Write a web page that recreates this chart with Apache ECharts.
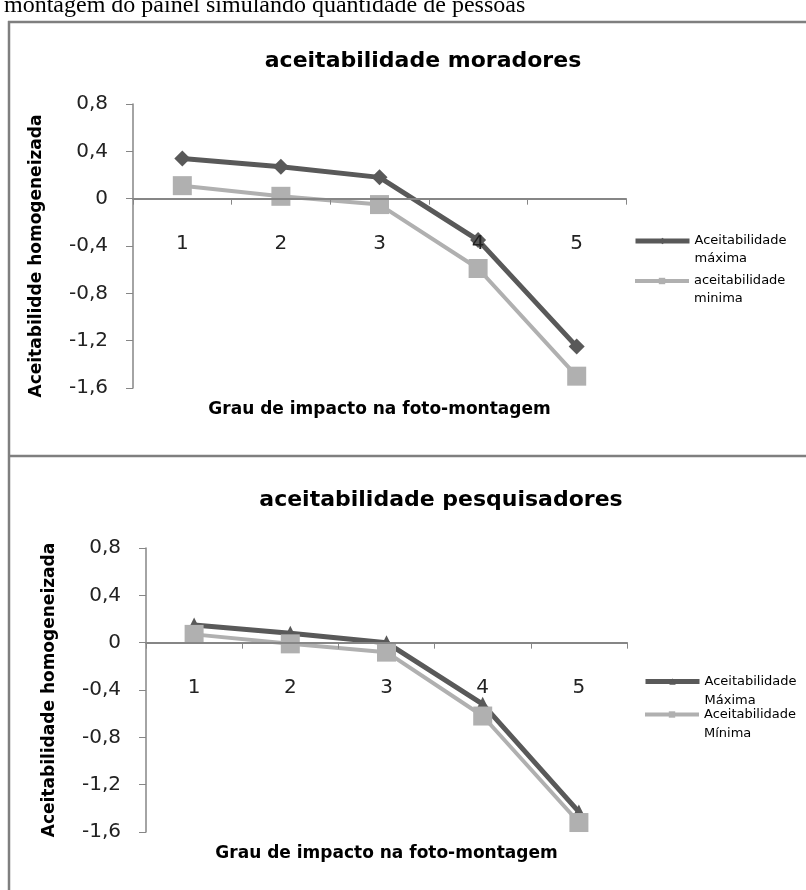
<!DOCTYPE html>
<html>
<head>
<meta charset="utf-8">
<script src="https://cdn.jsdelivr.net/npm/echarts@6/dist/echarts.min.js"></script>
<style>
  html, body { margin: 0; padding: 0; background: #ffffff; }
  #chart { width: 806px; height: 890px; }
</style>
</head>
<body>
<div id="chart"></div>
<script>
// Impact levels of the photo-montage (x categories)
const categories = ['1', '2', '3', '4', '5'];

// Residents: homogenised acceptability
const moradoresMax = [0.34, 0.27, 0.18, -0.35, -1.25];
const moradoresMin = [0.11, 0.02, -0.05, -0.59, -1.50];

// Researchers: homogenised acceptability
const pesquisadoresMax = [0.15, 0.08, 0.00, -0.52, -1.43];
const pesquisadoresMin = [0.07, -0.01, -0.08, -0.62, -1.52];

// Value-axis range and step
const yMin = -1.6;
const yMax = 0.8;
const yStep = 0.4;

const FONT = '"DejaVu Sans", sans-serif';
const DARK = '#595959';
const LIGHT = '#b0b0b0';
const AXIS = '#868686';

function fmtTick(v) {
  const r = Math.round(v * 10) / 10;
  if (r === 0) return '0';
  return r.toFixed(1).replace('.', ',');
}

// Category axis sits on the zero line; its labels are drawn on their own
// layer so the digits stay readable where a marker lands on them.
function xAxisFor(gridIndex) {
  return {
    type: 'category',
    gridIndex: gridIndex,
    zlevel: 1,
    data: categories,
    boundaryGap: true,
    axisLine: { onZero: true, lineStyle: { color: AXIS, width: 2 } },
    axisTick: { show: true, length: 6, lineStyle: { color: AXIS, width: 1 } },
    axisLabel: { margin: -154, fontSize: 20, color: '#222', fontFamily: FONT },
    name: 'Grau de impacto na foto-montagem',
    nameLocation: 'middle',
    nameGap: 13,
    nameTextStyle: { fontSize: 17, fontWeight: 'bold', color: '#000', fontFamily: FONT }
  };
}

function yAxisFor(gridIndex, title, namePad) {
  return {
    type: 'value',
    gridIndex: gridIndex,
    min: yMin,
    max: yMax,
    interval: yStep,
    splitLine: { show: false },
    axisLine: { show: true, lineStyle: { color: AXIS, width: 1.5 } },
    axisTick: { show: true, length: 7, lineStyle: { color: AXIS, width: 1 } },
    axisLabel: { margin: 25, fontSize: 20, color: '#222', fontFamily: FONT, formatter: fmtTick },
    name: title,
    nameLocation: 'middle',
    nameRotate: 90,
    nameGap: 88,
    nameTextStyle: {
      fontSize: 17, fontWeight: 'bold', color: '#000', fontFamily: FONT,
      padding: namePad
    }
  };
}

function lineSeries(name, data, idx, symbol, size, color, width) {
  return {
    name: name,
    type: 'line',
    xAxisIndex: idx,
    yAxisIndex: idx,
    data: data,
    symbol: symbol,
    symbolSize: size,
    showAllSymbol: true,
    lineStyle: { color: color, width: width },
    itemStyle: { color: color },
    emphasis: { disabled: true },
    animation: false
  };
}

// One legend per entry; the leading blank line keeps the icon level
// with the first word while the second word wraps below it.
function legendFor(name, left, top, lineWidth, lineHeight) {
  return {
    data: [name],
    left: left,
    top: top,
    orient: 'vertical',
    padding: 0,
    itemWidth: 54,
    itemHeight: 8,
    itemGap: 0,
    selectedMode: false,
    lineStyle: { width: lineWidth },
    formatter: function (n) { return '\n' + n.replace(' ', '\n'); },
    textStyle: {
      fontSize: 13,
      color: '#000',
      fontFamily: FONT,
      lineHeight: lineHeight
    }
  };
}

const chart = echarts.init(document.getElementById('chart'), null, { renderer: 'canvas' });

chart.setOption({
  backgroundColor: '#ffffff',
  animation: false,
  title: [
    {
      text: 'aceitabilidade moradores',
      left: 418, top: 45, textAlign: 'center',
      textStyle: { fontSize: 22, fontWeight: 'bold', color: '#000', fontFamily: FONT }
    },
    {
      text: 'aceitabilidade pesquisadores',
      left: 436, top: 484, textAlign: 'center',
      textStyle: { fontSize: 22, fontWeight: 'bold', color: '#000', fontFamily: FONT }
    }
  ],
  graphic: [
    {
      type: 'text', left: 4, top: -6, silent: true,
      style: {
        text: 'montagem do painel simulando quantidade de pessoas',
        fontSize: 24, fontFamily: '"Liberation Serif", "DejaVu Serif", serif', fill: '#000'
      }
    },
    { type: 'line', silent: true, shape: { x1: 8, y1: 22, x2: 806, y2: 22 }, style: { stroke: '#7f7f7f', lineWidth: 2.5 } },
    { type: 'line', silent: true, shape: { x1: 9, y1: 21, x2: 9, y2: 890 }, style: { stroke: '#7f7f7f', lineWidth: 2.5 } },
    { type: 'line', silent: true, shape: { x1: 8, y1: 456, x2: 806, y2: 456 }, style: { stroke: '#7f7f7f', lineWidth: 2.5 } }
  ],
  grid: [
    { left: 133, right: 180, top: 104, bottom: 502, containLabel: false, outerBoundsMode: 'none' },
    { left: 146, right: 179, top: 548, bottom: 58, containLabel: false, outerBoundsMode: 'none' }
  ],
  xAxis: [xAxisFor(0), xAxisFor(1)],
  yAxis: [
    yAxisFor(0, 'Aceitabilidde homogeneizada', [0, 20, 0, 0]),
    yAxisFor(1, 'Aceitabilidade homogeneizada', 0)
  ],
  legend: [
    legendFor('Aceitabilidade máxima', 633, 214, 5, 18),
    legendFor('aceitabilidade minima', 633, 254, 4, 18),
    legendFor('Aceitabilidade Máxima', 643, 653, 5, 19),
    legendFor('Aceitabilidade Mínima', 643, 686, 4, 19)
  ],
  series: [
    lineSeries('Aceitabilidade máxima', moradoresMax, 0, 'diamond', 16, DARK, 5),
    lineSeries('aceitabilidade minima', moradoresMin, 0, 'rect', 19, LIGHT, 4),
    lineSeries('Aceitabilidade Máxima', pesquisadoresMax, 1, 'triangle', 15, DARK, 5),
    lineSeries('Aceitabilidade Mínima', pesquisadoresMin, 1, 'rect', 19, LIGHT, 4)
  ]
});
</script>
</body>
</html>
